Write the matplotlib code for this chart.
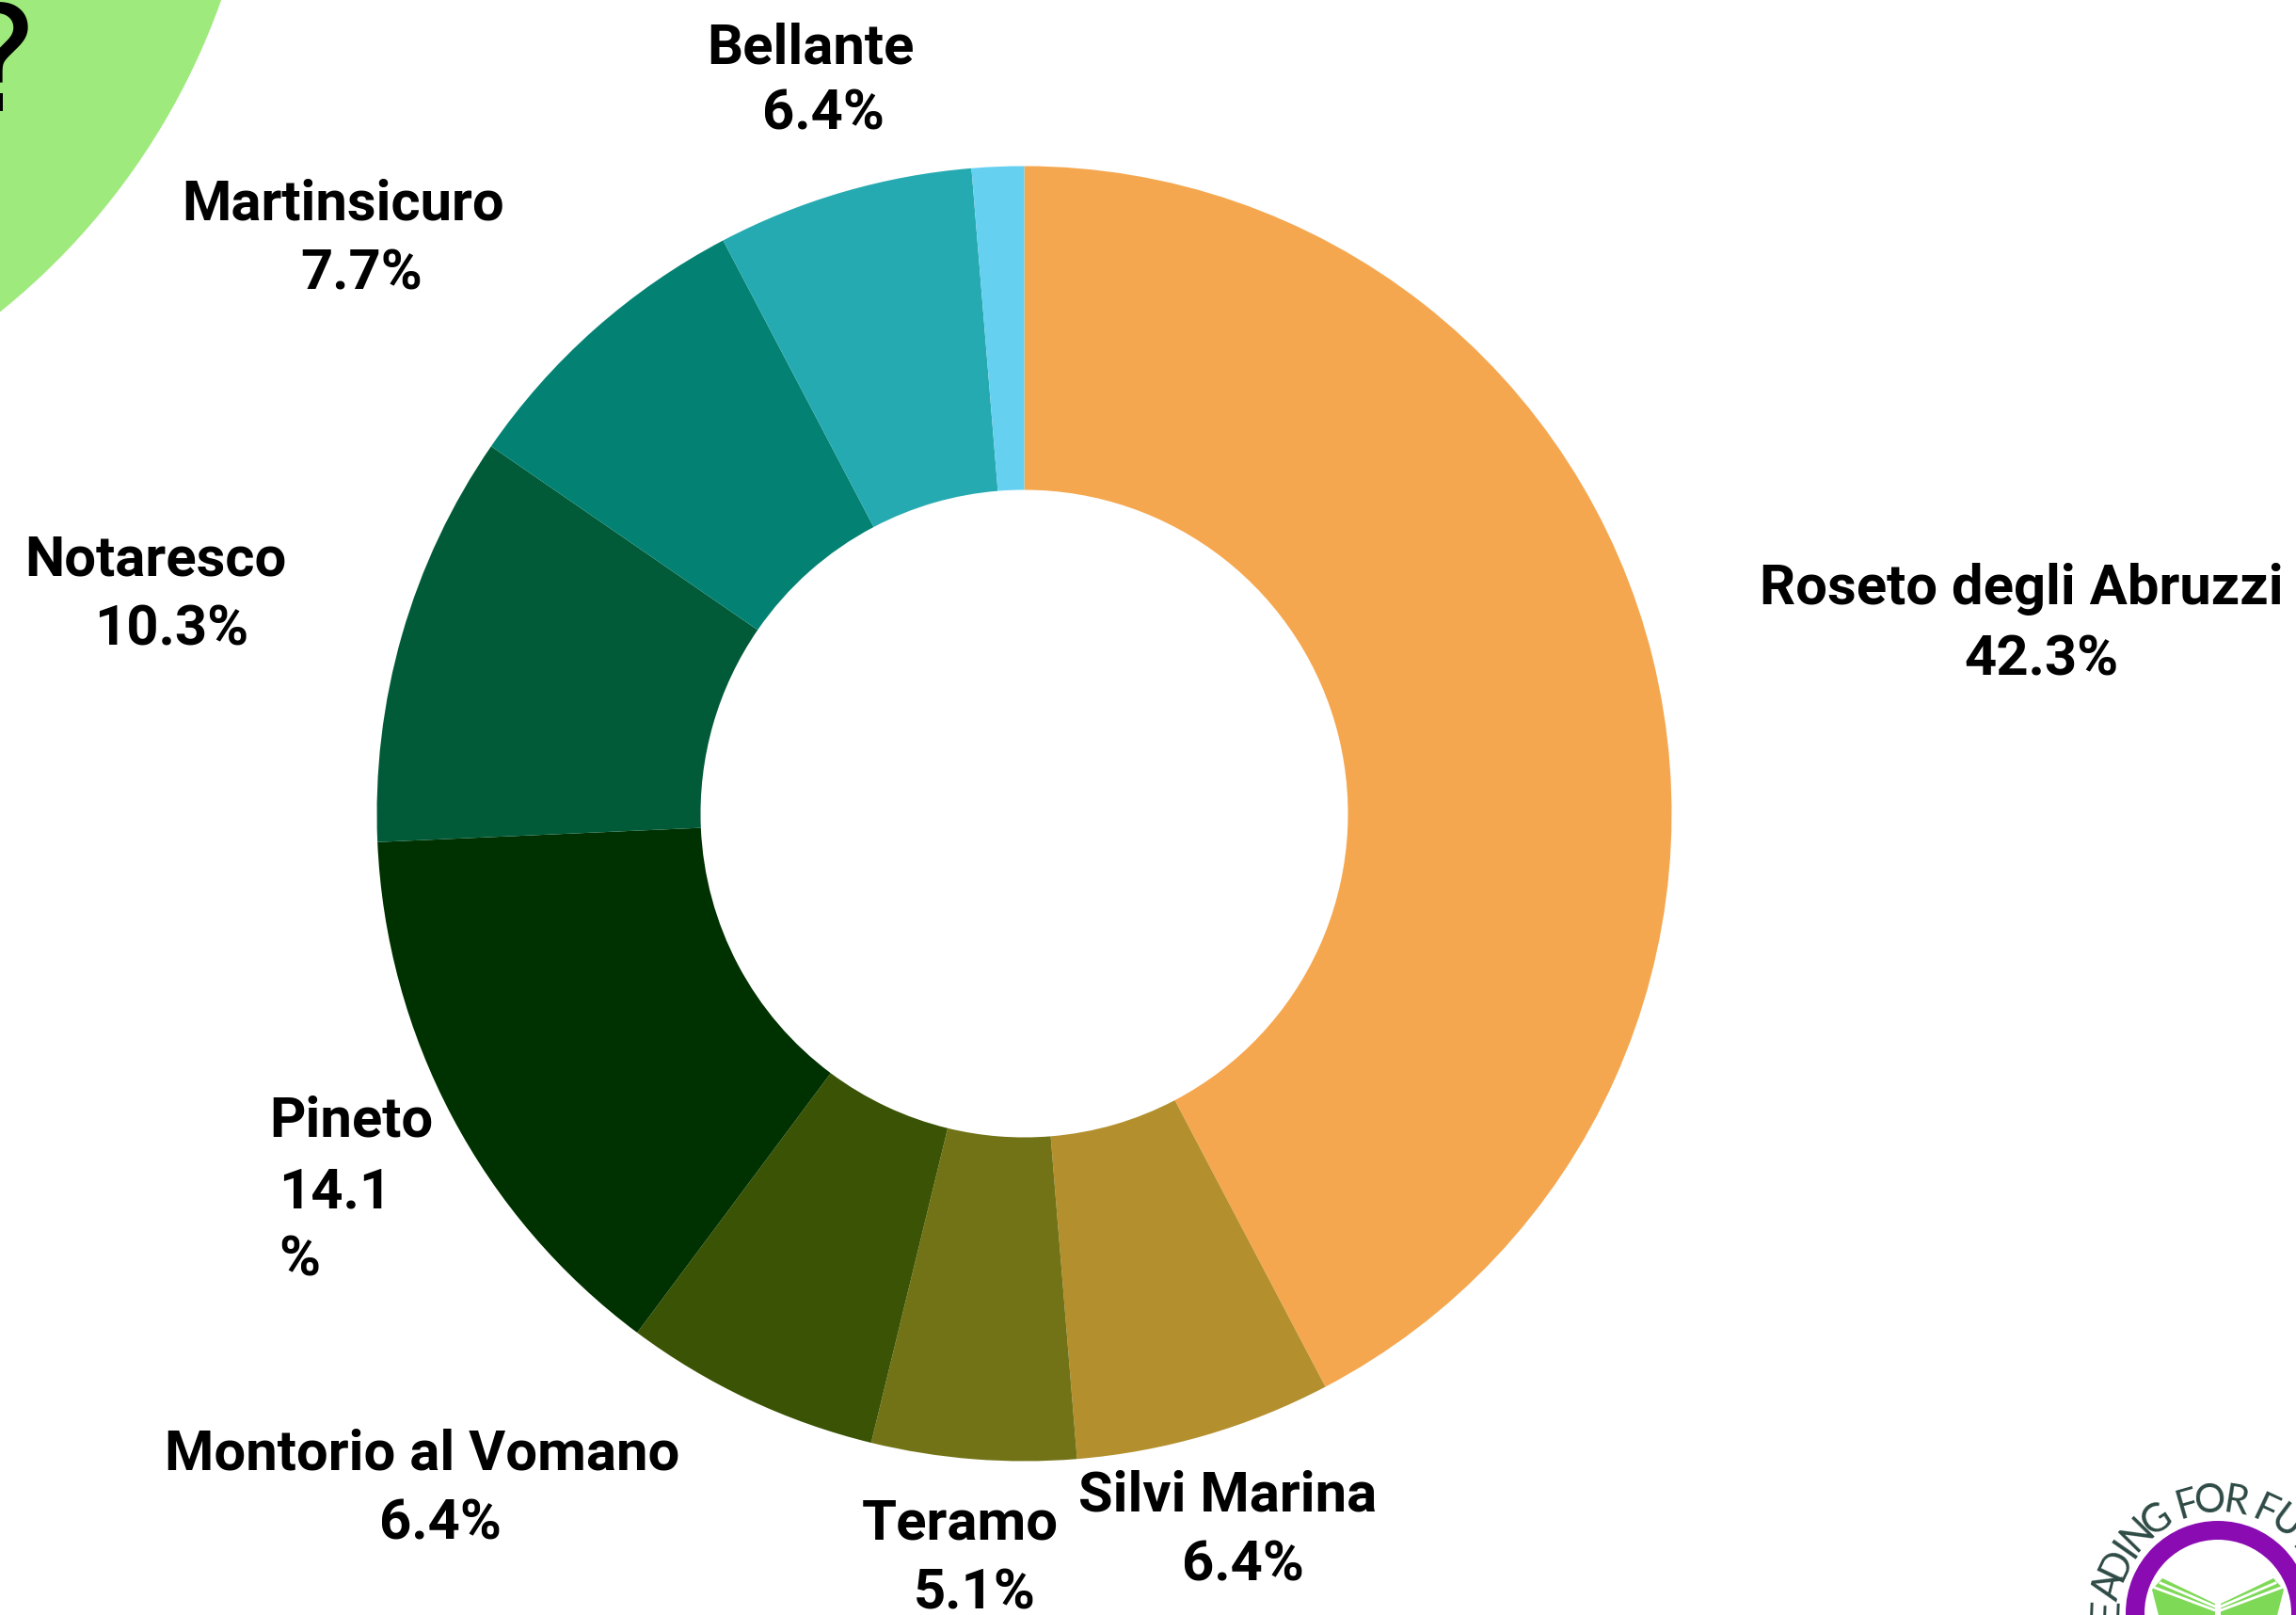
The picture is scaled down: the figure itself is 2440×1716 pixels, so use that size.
import math
import matplotlib
matplotlib.use("Agg")
import matplotlib.pyplot as plt
from matplotlib.patches import Circle, Wedge, Polygon

# ---------------- data ----------------
categories = ["Roseto degli Abruzzi", "Silvi Marina", "Teramo", "Montorio al Vomano",
              "Pineto", "Notaresco", "Martinsicuro", "Bellante", ""]
shares = [42.3, 6.4, 5.1, 6.4, 14.1, 10.3, 7.7, 6.4, 1.3]
colors = ["#F5A74F", "#B38F2D", "#727316", "#3A5304", "#003100",
          "#025B38", "#038274", "#26AAB1", "#66D0F0"]

# ---------------- layout (pixel coords, y down) ----------------
W, H, DPI = 2440, 1716, 100
CX, CY, R_OUT = 1088.5, 864.5, 688
# name: (x, baseline), pct: (x, baseline), alignment
label_layout = {
    "Roseto degli Abruzzi": ((2148, 642), (2170, 717), "center"),
    "Silvi Marina": ((1305, 1605), (1321, 1679), "center"),
    "Teramo": ((1020, 1635), (1036, 1709), "center"),
    "Montorio al Vomano": ((449, 1561), (468, 1635), "center"),
    "Pineto": ((286, 1207), (296, 1283), "left"),
    "Notaresco": ((165, 612), (182, 685), "center"),
    "Martinsicuro": ((365, 233), (384, 308), "center"),
    "Bellante": ((861, 67), (875, 137), "center"),
}
LINE_STEP = 73


def Y(y):
    return H - y


fig = plt.figure(figsize=(W / DPI, H / DPI), dpi=DPI)
fig.patch.set_facecolor("white")
ax = fig.add_axes([0, 0, 1, 1])

# decorative green circle with question mark (top-left)
ax.add_patch(Circle((-467, Y(-249)), 745, color="#9FEA7C", lw=0, zorder=0))
ax.text(40, Y(118), "?", fontsize=112, family="DejaVu Sans", color="black",
        ha="right", va="baseline", zorder=1)

# donut
ax.pie(shares, colors=colors, startangle=90, counterclock=False,
       radius=R_OUT, center=(CX, Y(CY)),
       wedgeprops=dict(width=R_OUT * 0.5, linewidth=0))

# labels
tkw = dict(family="Roboto", fontweight="bold", fontsize=43, color="black",
           va="baseline", zorder=5)
for name, val in zip(categories, shares):
    if not name:
        continue
    (nx, ny), (px, py), ha = label_layout[name]
    ax.text(nx, Y(ny), name, ha=ha, **tkw)
    pct = f"{val:.1f}%"
    if ha == "left":
        ax.text(px, Y(py), pct[:-1], ha=ha, **tkw)
        ax.text(px, Y(py + LINE_STEP), "%", ha=ha, **tkw)
    else:
        ax.text(px, Y(py), pct, ha=ha, **tkw)

# logo (bottom-right)
LX, LY = 2357, 1714
ax.add_patch(Wedge((LX, Y(LY)), 98, 0, 360, width=20, color="#8A0BB2", lw=0, zorder=3))
green = "#7ED957"
left_page = [(2298, 1677), (2354, 1704), (2354, 1740), (2300, 1740), (2287, 1689)]
for pts in (left_page, [(2 * LX - x, y) for x, y in left_page]):
    ax.add_patch(Polygon([(x, Y(y)) for x, y in pts], closed=True, color=green, lw=0, zorder=3))
for sgn in (1, -1):
    for (x0, y0), (x1, y1) in (((2296, 1682), (2354, 1707)), ((2290, 1687), (2354, 1711))):
        ax.plot([LX + sgn * (x0 - LX), LX + sgn * (x1 - LX)], [Y(y0), Y(y1)],
                color="white", lw=2, zorder=4)

logo_text = "LEADING FOR FUTURE"
adv = {"L": 12, "E": 12, "A": 12, "D": 11, "I": 8, "N": 11, "G": 14, " ": 5,
       "F": 10, "O": 14, "R": 12, "U": 14, "T": 11}
ang = 196.0
for ch in logo_text:
    a_c = ang - adv[ch] / 2
    if ch != " ":
        a = math.radians(a_c)
        ax.text(LX + 119 * math.cos(a), Y(LY) + 119 * math.sin(a), ch,
                family="Lato", fontsize=30, color="#2E4A45",
                ha="center", va="center", rotation=a_c - 90, zorder=4)
    ang -= adv[ch]

ax.set_xlim(0, W)
ax.set_ylim(0, H)
ax.set_aspect("auto")
ax.axis("off")

fig.savefig("out.png", dpi=DPI, facecolor="white")
